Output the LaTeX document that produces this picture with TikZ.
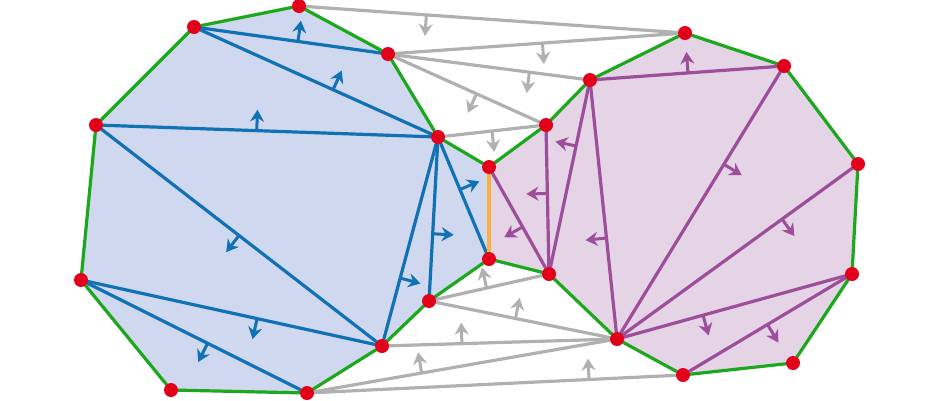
\documentclass[tikz,border=0pt]{standalone}
\usetikzlibrary{calc,arrows.meta}
\definecolor{fillblue}{HTML}{CFD8EE}
\definecolor{fillpurple}{HTML}{E5D3E6}
\definecolor{lineblue}{HTML}{1071B5}
\definecolor{linepurple}{HTML}{9C4E9A}
\definecolor{linegreen}{HTML}{1CA81C}
\definecolor{lineorange}{HTML}{F8B040}
\definecolor{linegray}{HTML}{B0B0B0}
\definecolor{dotred}{HTML}{E2001A}
\pgfdeclarelayer{bg}
\pgfsetlayers{bg,main}
\tikzset{
  vtx/.style={circle,fill=dotred,inner sep=0pt,minimum size=14pt},
  edgeline/.style={line width=3.2pt,line cap=round},
  hull/.style={edgeline,linegreen},
  bdiag/.style={edgeline,lineblue},
  pdiag/.style={edgeline,linepurple},
  gdiag/.style={edgeline,linegray},
  normarrow/.style={line width=3pt,-{Stealth[length=12pt,width=14pt,inset=4pt]}},
}
\newcommand\nrmarrow[5]{\draw[normarrow,#5] ($(#1)!#3!(#2)$) -- ($(#1)!#3!(#2)!21pt!#4:(#2)$);}
\begin{document}
\begin{tikzpicture}[x=1pt,y=-1pt]
\useasboundingbox (0,0) rectangle (940,400);
% vertices
\node[vtx] (A) at (299,6) {};
\node[vtx] (B) at (194,27) {};
\node[vtx] (C) at (388,54) {};
\node[vtx] (D) at (96,125) {};
\node[vtx] (E) at (438,137) {};
\node[vtx] (F) at (489,167) {};
\node[vtx] (G) at (489,259) {};
\node[vtx] (H) at (429,301) {};
\node[vtx] (I) at (81,280) {};
\node[vtx] (J) at (382,346) {};
\node[vtx] (K) at (171,390) {};
\node[vtx] (L) at (307,393) {};
\node[vtx] (M) at (685,33) {};
\node[vtx] (N) at (784,66) {};
\node[vtx] (O) at (590,80) {};
\node[vtx] (P) at (546,125) {};
\node[vtx] (Q) at (858,164) {};
\node[vtx] (R) at (549,274) {};
\node[vtx] (S) at (852,274) {};
\node[vtx] (T) at (617,339) {};
\node[vtx] (U) at (793,363) {};
\node[vtx] (V) at (683,375) {};
\begin{pgfonlayer}{bg}
% fills
\fill[fillblue] (A.center) -- (C.center) -- (E.center) -- (F.center) -- (G.center) -- (H.center) -- (J.center) -- (L.center) -- (K.center) -- (I.center) -- (D.center) -- (B.center) -- cycle;
\fill[fillpurple] (F.center) -- (P.center) -- (O.center) -- (M.center) -- (N.center) -- (Q.center) -- (S.center) -- (U.center) -- (V.center) -- (T.center) -- (R.center) -- (G.center) -- cycle;
% gray bridges
\draw[gdiag] (A) -- (M);
\draw[gdiag] (C) -- (M);
\draw[gdiag] (C) -- (O);
\draw[gdiag] (C) -- (P);
\draw[gdiag] (E) -- (P);
\draw[gdiag] (H) -- (R);
\draw[gdiag] (H) -- (T);
\draw[gdiag] (J) -- (T);
\draw[gdiag] (L) -- (T);
\draw[gdiag] (L) -- (V);
% blue diagonals
\draw[bdiag] (B) -- (C);
\draw[bdiag] (B) -- (E);
\draw[bdiag] (D) -- (E);
\draw[bdiag] (D) -- (J);
\draw[bdiag] (I) -- (J);
\draw[bdiag] (I) -- (L);
\draw[bdiag] (J) -- (E);
\draw[bdiag] (H) -- (E);
\draw[bdiag] (G) -- (E);
% purple diagonals
\draw[pdiag] (O) -- (N);
\draw[pdiag] (O) -- (R);
\draw[pdiag] (P) -- (R);
\draw[pdiag] (F) -- (R);
\draw[pdiag] (O) -- (T);
\draw[pdiag] (T) -- (N);
\draw[pdiag] (T) -- (Q);
\draw[pdiag] (T) -- (S);
\draw[pdiag] (V) -- (S);
% hulls
\draw[hull] (A) -- (C);
\draw[hull] (C) -- (E);
\draw[hull] (E) -- (F);
\draw[hull] (G) -- (H);
\draw[hull] (H) -- (J);
\draw[hull] (J) -- (L);
\draw[hull] (L) -- (K);
\draw[hull] (K) -- (I);
\draw[hull] (I) -- (D);
\draw[hull] (D) -- (B);
\draw[hull] (B) -- (A);
\draw[hull] (F) -- (P);
\draw[hull] (P) -- (O);
\draw[hull] (O) -- (M);
\draw[hull] (M) -- (N);
\draw[hull] (N) -- (Q);
\draw[hull] (Q) -- (S);
\draw[hull] (S) -- (U);
\draw[hull] (U) -- (V);
\draw[hull] (V) -- (T);
\draw[hull] (T) -- (R);
\draw[hull] (R) -- (G);
\draw[edgeline,lineorange] (F) -- (G);
% normal arrows
\nrmarrow{B}{C}{0.536}{90}{lineblue}
\nrmarrow{B}{E}{0.57}{90}{lineblue}
\nrmarrow{D}{E}{0.47}{90}{lineblue}
\nrmarrow{D}{J}{0.50}{-90}{lineblue}
\nrmarrow{I}{J}{0.585}{-90}{lineblue}
\nrmarrow{I}{L}{0.56}{-90}{lineblue}
\nrmarrow{J}{E}{0.325}{-90}{lineblue}
\nrmarrow{H}{E}{0.41}{-90}{lineblue}
\nrmarrow{G}{E}{0.57}{-90}{lineblue}
\nrmarrow{O}{N}{0.505}{90}{linepurple}
\nrmarrow{O}{R}{0.34}{-90}{linepurple}
\nrmarrow{P}{R}{0.46}{-90}{linepurple}
\nrmarrow{F}{R}{0.56}{-90}{linepurple}
\nrmarrow{O}{T}{0.61}{-90}{linepurple}
\nrmarrow{T}{N}{0.64}{-90}{linepurple}
\nrmarrow{T}{Q}{0.685}{-90}{linepurple}
\nrmarrow{T}{S}{0.366}{-90}{linepurple}
\nrmarrow{V}{S}{0.5}{-90}{linepurple}
\nrmarrow{A}{M}{0.33}{-90}{linegray}
\nrmarrow{C}{M}{0.52}{-90}{linegray}
\nrmarrow{C}{O}{0.70}{-90}{linegray}
\nrmarrow{C}{P}{0.56}{-90}{linegray}
\nrmarrow{E}{P}{0.5}{-90}{linegray}
\nrmarrow{H}{R}{0.48}{90}{linegray}
\nrmarrow{H}{T}{0.46}{90}{linegray}
\nrmarrow{J}{T}{0.34}{90}{linegray}
\nrmarrow{L}{T}{0.37}{90}{linegray}
\nrmarrow{L}{V}{0.75}{90}{linegray}
\end{pgfonlayer}
\end{tikzpicture}
\end{document}
